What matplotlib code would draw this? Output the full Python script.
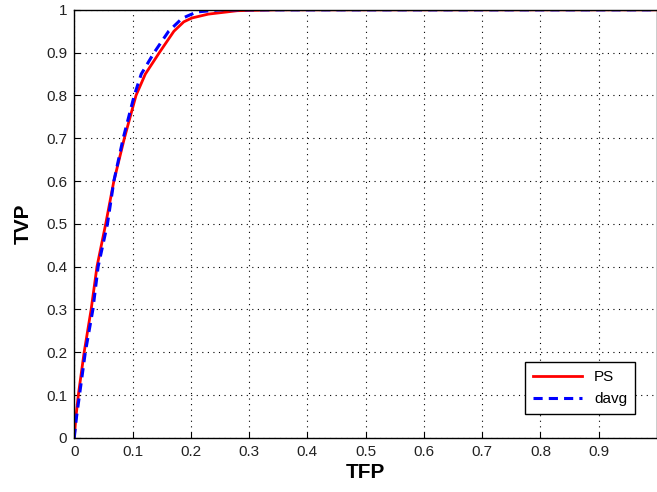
import matplotlib.pyplot as plt

# ROC points
ps_fpr = [0, 0.003, 0.007, 0.017, 0.029, 0.039, 0.054, 0.068, 0.086, 0.106, 0.122,
          0.146, 0.171, 0.188, 0.202, 0.23, 0.28, 0.35, 0.5, 0.7, 1.0]
ps_tpr = [0, 0.05, 0.1, 0.2, 0.3, 0.4, 0.5, 0.6, 0.7, 0.8, 0.85,
          0.9, 0.95, 0.972, 0.981, 0.99, 0.998, 1.0, 1.0, 1.0, 1.0]

davg_fpr = [0, 0.004, 0.009, 0.019, 0.032, 0.041, 0.057, 0.068, 0.084, 0.103, 0.115,
            0.137, 0.162, 0.185, 0.21, 0.25, 0.35, 0.5, 0.7, 1.0]
davg_tpr = [0, 0.05, 0.1, 0.2, 0.3, 0.4, 0.5, 0.6, 0.7, 0.8, 0.85,
            0.9, 0.95, 0.98, 0.995, 1.0, 1.0, 1.0, 1.0, 1.0]

xticks = [0, 0.1, 0.2, 0.3, 0.4, 0.5, 0.6, 0.7, 0.8, 0.9]
xlabels = ['0', '0.1', '0.2', '0.3', '0.4', '0.5', '0.6', '0.7', '0.8', '0.9']
yticks = [0, 0.1, 0.2, 0.3, 0.4, 0.5, 0.6, 0.7, 0.8, 0.9, 1.0]
ylabels = ['0', '0.1', '0.2', '0.3', '0.4', '0.5', '0.6', '0.7', '0.8', '0.9', '1']

plt.rcParams['font.family'] = ['Liberation Sans', 'DejaVu Sans']

fig = plt.figure(figsize=(6.57, 4.92), dpi=100)
ax = fig.add_axes([0.113, 0.11, 0.887, 0.87])

ax.plot(ps_fpr, ps_tpr, color='red', linewidth=2.0, label='PS')
ax.plot(davg_fpr, davg_tpr, color='blue', linewidth=2.2, linestyle=(0, (3, 2)), label='davg')

ax.set_xlim(0, 1)
ax.set_ylim(0, 1)
ax.set_xticks(xticks)
ax.set_xticklabels(xlabels)
ax.set_yticks(yticks)
ax.set_yticklabels(ylabels)
ax.tick_params(direction='in', labelsize=11, length=4, color='black',
               labelcolor='#222222', pad=5)
ax.grid(True, linestyle=(0, (1, 4)), color='black', linewidth=0.8)

for s in ax.spines.values():
    s.set_linewidth(1.0)

ax.set_xlabel('TFP', fontsize=15, fontweight='bold', labelpad=3)
ax.set_ylabel('TVP', fontsize=15, fontweight='bold', labelpad=10)

leg = ax.legend(loc='lower right', bbox_to_anchor=(0.975, 0.038), fontsize=11,
                fancybox=False, framealpha=1, edgecolor='black', handlelength=3.2,
                borderpad=0.5, labelspacing=0.55)
leg.get_frame().set_linewidth(1.0)

plt.savefig('out.png', dpi=100)
